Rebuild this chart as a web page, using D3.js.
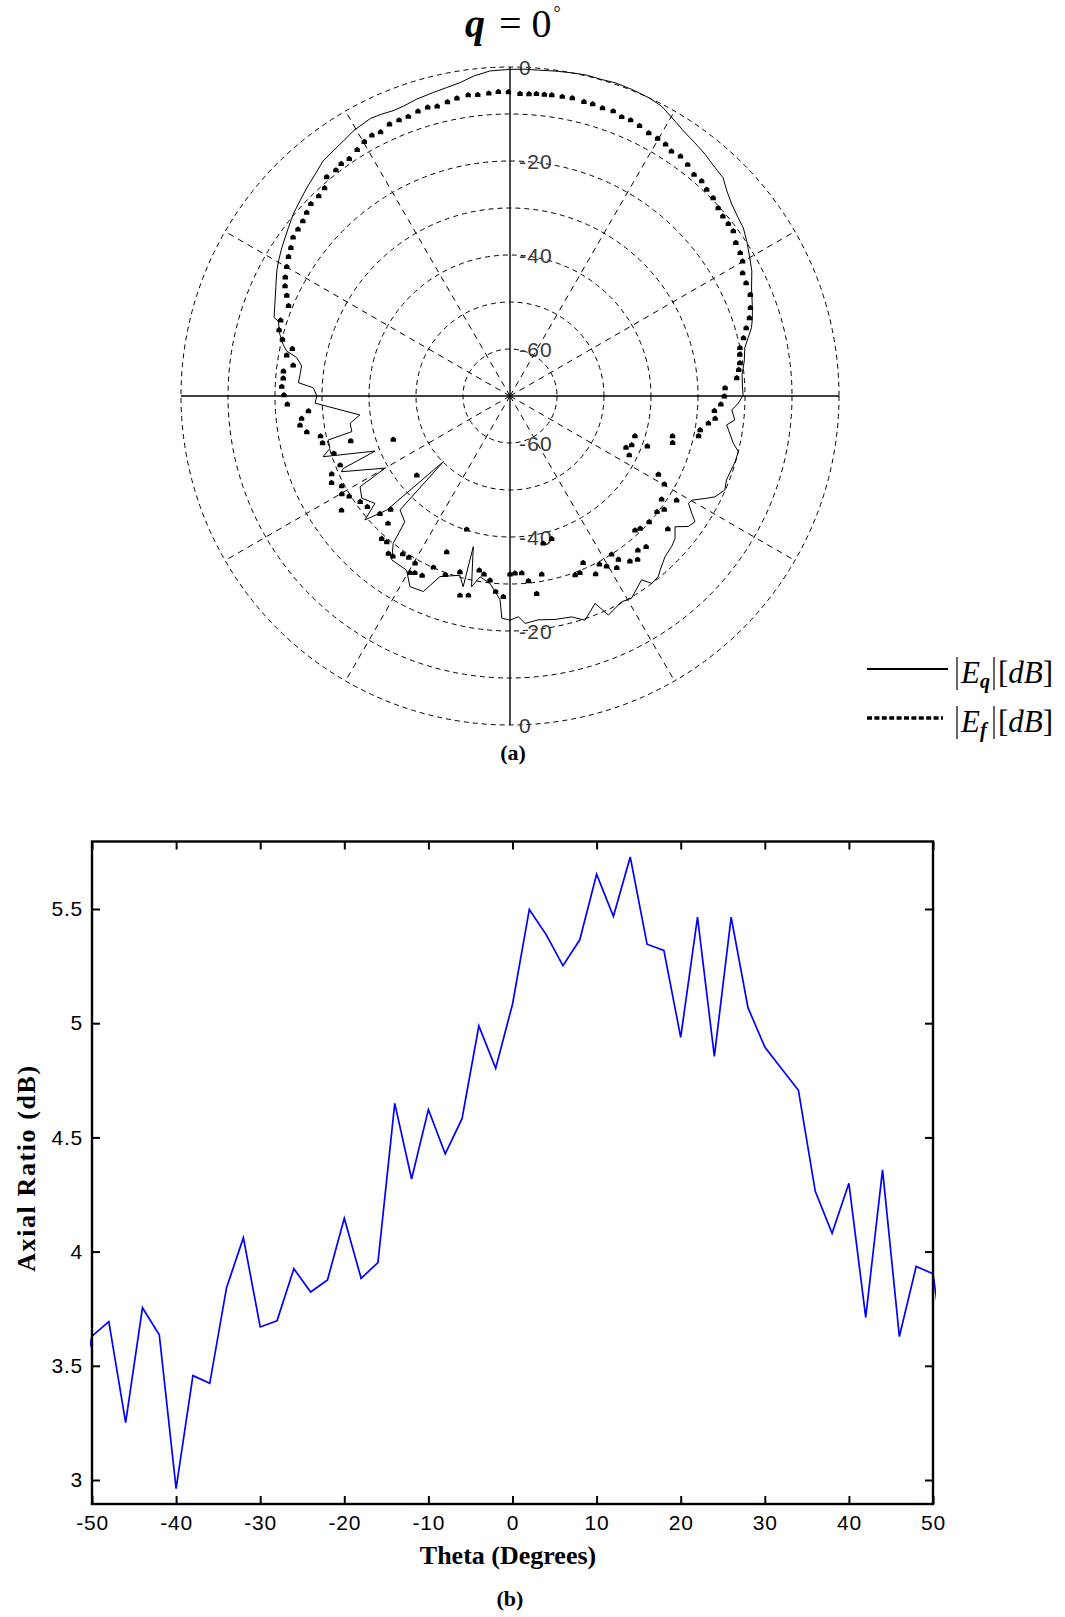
<!DOCTYPE html>
<html>
<head>
<meta charset="utf-8">
<script src="https://cdn.jsdelivr.net/npm/d3@7"></script>
<style>
body { margin: 0; background: #fff; }
</style>
</head>
<body>
<div id="chart"></div>
<script>
// (a) polar pattern, angle in degrees clockwise from top, level in dB
var thetaAngles = [-180, -177.9, -177.2, -173.9, -170.6, -168.6, -166.3, -166.2, -164.4, -158.8,
  -156.1, -152.3, -149.3, -144.2, -141.6, -140.1, -136, -134.6, -132.8, -130.5,
  -128.5, -124.6, -121.2, -120, -114.2, -113.5, -112.2, -108, -106.2, -103.6,
  -102.7, -99.7, -97.2, -92.1, -90, -87.6, -86.4, -84.1, -81.8, -79.8,
  -78.6, -77.2, -75, -72.1, -71.6, -68.7, -65.2, -61.8, -59.8, -57,
  -52.8, -50, -47.1, -44.3, -41.3, -38.5, -35.8, -33.2, -30.6, -29.1,
  -26.7, -24.5, -22.3, -20.2, -17.5, -14.2, -11.6, -9.1, -6.5, -3.5,
  0, 2.6, 5, 7.9, 10.8, 13.4, 16.1, 18.5, 21.6, 24.9,
  27.6, 30.2, 33.2, 36.1, 38.9, 41.9, 44.3, 46.6, 49.1, 52,
  54.2, 56.8, 60, 62.7, 65.9, 69.3, 72.1, 74.2, 76.2, 78.4,
  81.5, 84.7, 88, 89.8, 91.8, 93.6, 96.1, 97.6, 102, 103.7,
  106.3, 111.2, 113.6, 116.2, 117.7, 119.8, 121, 122.8, 124.2, 126.2,
  128.4, 130.8, 133, 136, 139.2, 140.6, 142.9, 144.4, 149, 151.5,
  155.8, 157.7, 161.5, 164.4, 168.6, 172.8, 176.2, 177.8, 180];
var thetaDb = [-22.3, -22.7, -26.6, -29.9, -31.0, -28.6, -37.0, -28.2, -30.4, -28.8,
  -24.5, -24.2, -26.9, -27.0, -30.0, -35.1, -36.3, -50.1, -34.3, -29.4,
  -33.3, -31.7, -32.7, -39.3, -30.7, -31.3, -39.0, -28.2, -30.1, -30.2,
  -35.5, -35.5, -37.8, -28.5, -28.9, -28.1, -24.9, -25.1, -25.2, -23.9,
  -21.5, -20.5, -19.3, -18.2, -17.1, -16.3, -15.1, -13.7, -13.0, -12.1,
  -10.8, -9.8, -9.0, -8.1, -7.2, -6.1, -5.7, -5.2, -4.5, -4.3,
  -3.9, -4.1, -4.4, -4.3, -3.8, -3.4, -3.0, -2.5, -1.5, -0.7,
  -0.5, -0.4, -0.4, -0.2, 0.0, 0.2, 0.1, 0.3, 0.2, 0.0,
  -0.4, -1.5, -2.6, -3.3, -3.9, -4.7, -5.1, -6.5, -7.6, -8.4,
  -8.8, -9.8, -11.1, -12.1, -13.7, -14.9, -15.8, -16.6, -17.8, -19.0,
  -19.6, -20.4, -20.5, -20.4, -21.4, -22.7, -21.9, -23.5, -21.4, -20.0,
  -20.1, -20.6, -20.1, -21.4, -23.1, -25.4, -25.7, -24.0, -22.4, -23.0,
  -25.2, -23.6, -23.0, -22.5, -21.1, -20.3, -20.0, -21.9, -19.8, -20.2,
  -18.9, -22.3, -19.7, -21.2, -21.5, -22.0, -21.5, -23.0, -22.3];

var phiAngles = [-178.1, -175.8, -173.8, -171.7, -170, -168.2, -165.9, -164.1, -162, -160.1,
  -157.9, -155.9, -153.9, -151.7, -150.5, -150.4, -147.9, -145.8, -143.8, -142.3,
  -139.8, -138, -136.2, -133.5, -132.1, -130.3, -127.8, -125.2, -124.1, -121.9,
  -120.2, -118.1, -115.9, -113.6, -112.1, -110.4, -108, -105.7, -104, -101.9,
  -100, -97.9, -96.1, -94.2, -92.1, -89.7, -87.6, -85.5, -83.7, -81.9,
  -79.6, -77.7, -76, -74, -71.7, -67.8, -65.7, -63.9, -62.1, -59.9,
  -57.8, -55.9, -53.8, -51.8, -49.8, -47.9, -46, -43.7, -41.7, -39.9,
  -37.6, -36, -34.1, -31.8, -29.8, -27.9, -26.1, -23.9, -21.9, -20,
  -17.9, -15.9, -14.1, -12, -10.1, -7.9, -6.1, -4, -2.2, -0.3,
  1.9, 3.6, 5, 6.5, 7.9, 9.9, 11.8, 14.1, 15.8, 17.8,
  19.9, 21.8, 23.6, 25.6, 27.8, 29.8, 31.7, 33.4, 35.4, 37.5,
  39.7, 41.7, 43.6, 45.7, 47.9, 49.8, 51.7, 53.5, 55.8, 58.1,
  59.9, 62.1, 64.4, 67.1, 69.8, 71.9, 73.9, 76, 78.1, 79.7,
  81.8, 83.4, 85.4, 87.8, 90, 92.2, 94.1, 96.2, 97.8, 100.1,
  101.9, 103.8, 106, 107.7, 110, 111.9, 113.9, 116.3, 117.8, 119.7,
  122, 124.2, 126.3, 128.2, 130.1, 132.1, 135.5, 137, 137.9, 140.3,
  142, 144, 146.4, 147.3, 148.1, 150.4, 152, 154.3, 156.3, 158.4,
  160, 163.7, 167.3, 169.9, 172.3, 174.3, 176.2, 178.4, 180];
var phiDb = [-27.3, -28.3, -30.6, -31.7, -32.4, -26.7, -26.3, -31.1, -40.2, -29.6,
  -34.2, -30.1, -27.5, -27.3, -26.8, -29.1, -29.5, -29.4, -27.8, -27.7,
  -29.4, -29.2, -32.5, -35.0, -32.7, -44.0, -31.6, -31.0, -26.7, -29.7,
  -28.6, -29.4, -27.8, -28.6, -31.0, -43.5, -30.6, -34.8, -28.9, -28.8,
  -26.1, -24.9, -25.4, -27.0, -22.6, -21.9, -21.4, -21.6, -21.5, -23.4,
  -21.7, -22.6, -20.1, -18.9, -18.6, -19.1, -17.9, -16.7, -15.9, -15.1,
  -14.3, -13.7, -12.8, -12.6, -12.3, -11.7, -11.1, -11.1, -10.7, -9.2,
  -9.3, -8.9, -9.0, -8.3, -7.6, -7.2, -7.4, -6.7, -6.7, -6.7,
  -6.3, -6.1, -6.4, -6.0, -5.6, -5.3, -5.5, -5.4, -5.2, -5.3,
  -5.6, -5.6, -5.4, -5.4, -5.3, -5.3, -5.2, -5.4, -5.4, -5.6,
  -5.5, -6.0, -5.9, -6.2, -6.7, -6.8, -7.0, -7.6, -7.4, -7.9,
  -8.7, -8.7, -9.3, -9.6, -10.3, -10.7, -10.8, -10.9, -11.9, -12.3,
  -12.8, -14.0, -14.3, -14.5, -15.5, -16.4, -17.7, -18.8, -20.0, -20.3,
  -20.6, -21.0, -21.6, -24.2, -24.4, -25.1, -26.4, -26.1, -27.4, -28.9,
  -29.0, -34.4, -34.0, -42.1, -38.9, -42.1, -43.0, -41.7, -34.3, -32.2,
  -28.2, -31.0, -29.3, -30.2, -26.1, -30.1, -30.5, -31.0, -26.8, -27.4,
  -25.9, -26.6, -28.3, -30.0, -27.0, -28.4, -29.5, -28.0, -31.3, -29.6,
  -29.5, -38.4, -37.9, -31.5, -27.6, -30.5, -32.3, -32.3, -32.1];

var ringLevels = [-60, -50, -40, -30, -20, -10, 0];
var ringLabels = [0, -20, -40, -60];
var spokeAngles = [30, 60, 120, 150, 210, 240, 300, 330];

// (b) axial ratio vs theta
var arTheta = [-52, -50, -48, -46, -44, -42, -40, -38, -36, -34, -32, -30, -28, -26, -24, -22, -20, -18,
  -16, -14, -12, -10, -8, -6, -4, -2, 0, 2, 4, 6, 8, 10, 12, 14, 16, 18,
  20, 22, 24, 26, 28, 30, 32, 34, 36, 38, 40, 42, 44, 46, 48, 50, 52];
var arValues = [3.30, 3.630, 3.693, 3.251, 3.754, 3.636, 2.962, 3.457, 3.423, 3.842, 4.061, 3.670, 3.697, 3.925, 3.823, 3.876, 4.146, 3.883,
  3.952, 4.649, 4.318, 4.622, 4.428, 4.582, 4.988, 4.803, 5.083, 5.498, 5.388, 5.252, 5.365, 5.652, 5.468, 5.728, 5.346, 5.319,
  4.938, 5.464, 4.855, 5.464, 5.068, 4.896, 4.801, 4.706, 4.264, 4.080, 4.299, 3.712, 4.358, 3.628, 3.935, 3.903, 3.38];
var xTicks = [-50, -40, -30, -20, -10, 0, 10, 20, 30, 40, 50];
var yTicks = [3, 3.5, 4, 4.5, 5, 5.5];

var w = 1065;
var h = 1617;
var serif = "'Liberation Serif', 'Times New Roman', serif";
var sans = "'Liberation Sans', Arial, sans-serif";

var svg = d3.select("#chart")
            .append("svg")
            .attr("width", w)
            .attr("height", h);

// ---------- polar plot ----------
var cx = 510, cy = 396, R = 329;
var rScale = d3.scaleLinear().domain([-70, 0]).range([0, R]);
var rad = function(a) { return a * Math.PI / 180; };

var polar = svg.append("g").attr("transform", "translate(" + cx + "," + cy + ")");

polar.selectAll("circle.ring")
    .data(ringLevels)
    .enter()
    .append("circle")
    .attr("class", "ring")
    .attr("r", function(d) { return rScale(d); })
    .attr("fill", "none")
    .attr("stroke", "#000")
    .attr("stroke-width", 1)
    .attr("stroke-dasharray", "5,4");

polar.selectAll("line.spoke")
    .data(spokeAngles)
    .enter()
    .append("line")
    .attr("class", "spoke")
    .attr("x1", 0).attr("y1", 0)
    .attr("x2", function(d) { return d3.pointRadial(rad(d), R)[0]; })
    .attr("y2", function(d) { return d3.pointRadial(rad(d), R)[1]; })
    .attr("stroke", "#000")
    .attr("stroke-width", 1)
    .attr("stroke-dasharray", "6,5");

polar.append("line")
    .attr("x1", -R).attr("x2", R).attr("y1", 0).attr("y2", 0)
    .attr("stroke", "#000").attr("stroke-width", 1.4);
polar.append("line")
    .attr("x1", 0).attr("x2", 0).attr("y1", -R).attr("y2", R)
    .attr("stroke", "#000").attr("stroke-width", 1.4);

var labelData = ringLabels.map(function(v) { return {v: v, s: -1}; })
    .concat(ringLabels.map(function(v) { return {v: v, s: 1}; }));

polar.selectAll("text.rlabel")
    .data(labelData)
    .enter()
    .append("text")
    .attr("class", "rlabel")
    .attr("x", 9)
    .attr("y", function(d) { return d.s * rScale(d.v); })
    .attr("dy", "0.4em")
    .attr("font-family", sans)
    .attr("font-size", 21)
    .attr("letter-spacing", 1.2)
    .attr("fill", "#3a3a3a")
    .text(function(d) { return d.v === 0 ? "0" : "-" + Math.abs(d.v); });

var thetaPts = thetaAngles.map(function(a, i) { return {a: a, v: thetaDb[i]}; });
var radial = d3.lineRadial()
    .angle(function(d) { return rad(d.a); })
    .radius(function(d) { return rScale(d.v); });

polar.append("path")
    .datum(thetaPts)
    .attr("d", radial)
    .attr("fill", "none")
    .attr("stroke", "#000")
    .attr("stroke-width", 1);

var phiPts = phiAngles.map(function(a, i) { return {a: a, v: phiDb[i]}; });
polar.selectAll("path.dot")
    .data(phiPts)
    .enter()
    .append("path")
    .attr("class", "dot")
    .attr("d", "M-2.7,2.4L2.7,2.4L2.7,-0.9L0,-2.8L-2.7,-0.9Z")
    .attr("transform", function(d) {
        var p = d3.pointRadial(rad(d.a), rScale(d.v));
        return "translate(" + p[0] + "," + p[1] + ")";
    })
    .attr("fill", "#000");

// title
var title = svg.append("text")
    .attr("x", 465).attr("y", 37)
    .attr("font-family", serif)
    .attr("font-size", 40);
title.append("tspan").attr("font-weight", "bold").attr("font-style", "italic").text("q");
title.append("tspan").attr("dx", 14).text("=");
title.append("tspan").attr("dx", 10).text("0");
title.append("tspan").attr("font-size", 18).attr("dy", -18).attr("dx", 2).text("°");

svg.append("text")
    .attr("x", 513).attr("y", 760)
    .attr("text-anchor", "middle")
    .attr("font-family", serif)
    .attr("font-weight", "bold")
    .attr("font-size", 22)
    .text("(a)");

// legend
var leg = svg.append("g");
leg.append("line")
    .attr("x1", 867).attr("x2", 948).attr("y1", 669).attr("y2", 669)
    .attr("stroke", "#000").attr("stroke-width", 2);
leg.append("line")
    .attr("x1", 867).attr("x2", 943).attr("y1", 718).attr("y2", 718)
    .attr("stroke", "#000").attr("stroke-width", 3.5)
    .attr("stroke-dasharray", "5,2.4");

var legRows = [{sub: "q", base: 683}, {sub: "f", base: 732}];
legRows.forEach(function(r) {
    leg.append("line").attr("x1", 957).attr("x2", 957)
        .attr("y1", r.base - 26).attr("y2", r.base + 7)
        .attr("stroke", "#000").attr("stroke-width", 1.2);
    leg.append("line").attr("x1", 994).attr("x2", 994)
        .attr("y1", r.base - 26).attr("y2", r.base + 7)
        .attr("stroke", "#000").attr("stroke-width", 1.2);
    var t = leg.append("text")
        .attr("x", 961).attr("y", r.base)
        .attr("font-family", serif)
        .attr("font-size", 31);
    t.append("tspan").attr("font-style", "italic").text("E");
    t.append("tspan").attr("font-style", "italic").attr("font-weight", "bold")
        .attr("font-size", 20).attr("dy", 5).text(r.sub);
    var u = leg.append("text")
        .attr("x", 998).attr("y", r.base)
        .attr("font-family", serif)
        .attr("font-size", 31);
    u.append("tspan").text("[");
    u.append("tspan").attr("font-style", "italic").text("dB");
    u.append("tspan").text("]");
});

// ---------- axial ratio plot ----------
var pl = 92, pr = 933, pt = 841.5, pb = 1504;
var x = d3.scaleLinear().domain([-50, 50]).range([pl, pr]);
var y = d3.scaleLinear().domain([3, 5.5]).range([1480, 909]);

svg.append("defs").append("clipPath").attr("id", "clip")
    .append("rect")
    .attr("x", pl - 2).attr("y", pt)
    .attr("width", pr - pl + 5).attr("height", pb - pt);

var line = d3.line()
    .x(function(d) { return x(d[0]); })
    .y(function(d) { return y(d[1]); });

svg.append("path")
    .datum(arTheta.map(function(t, i) { return [t, arValues[i]]; }))
    .attr("clip-path", "url(#clip)")
    .attr("d", line)
    .attr("fill", "none")
    .attr("stroke", "#0000ff")
    .attr("stroke-width", 1.7)
    .attr("stroke-linejoin", "miter");

function styleAxis(g, showText) {
    g.select(".domain").remove();
    g.selectAll(".tick line").attr("stroke", "#000").attr("stroke-width", 2);
    g.selectAll(".tick text")
        .attr("font-family", sans)
        .attr("font-size", 21)
        .attr("letter-spacing", 0.8)
        .attr("fill", "#000");
    if (!showText) g.selectAll(".tick text").remove();
}

var plain = function(d) { return String(d); };

svg.append("g")
    .attr("transform", "translate(0," + pb + ")")
    .call(d3.axisBottom(x).tickValues(xTicks).tickSizeInner(-8).tickSizeOuter(0).tickPadding(11)
        .tickFormat(plain))
    .call(styleAxis, true);
svg.append("g")
    .attr("transform", "translate(0," + pt + ")")
    .call(d3.axisTop(x).tickValues(xTicks).tickSizeInner(-8).tickSizeOuter(0))
    .call(styleAxis, false);
svg.append("g")
    .attr("transform", "translate(" + pl + ",0)")
    .call(d3.axisLeft(y).tickValues(yTicks).tickSizeInner(-8).tickSizeOuter(0).tickPadding(9)
        .tickFormat(plain))
    .call(styleAxis, true);
svg.append("g")
    .attr("transform", "translate(" + pr + ",0)")
    .call(d3.axisRight(y).tickValues(yTicks).tickSizeInner(-8).tickSizeOuter(0))
    .call(styleAxis, false);

svg.append("rect")
    .attr("x", pl).attr("y", pt)
    .attr("width", pr - pl).attr("height", pb - pt)
    .attr("fill", "none")
    .attr("stroke", "#000")
    .attr("stroke-width", 2.4);

svg.append("text")
    .attr("x", 508).attr("y", 1564)
    .attr("text-anchor", "middle")
    .attr("font-family", serif)
    .attr("font-weight", "bold")
    .attr("font-size", 26)
    .text("Theta (Degrees)");

svg.append("text")
    .attr("transform", "translate(35,1168) rotate(-90)")
    .attr("text-anchor", "middle")
    .attr("font-family", serif)
    .attr("font-weight", "bold")
    .attr("font-size", 26)
    .attr("letter-spacing", 1.6)
    .text("Axial Ratio (dB)");

svg.append("text")
    .attr("x", 510).attr("y", 1606)
    .attr("text-anchor", "middle")
    .attr("font-family", serif)
    .attr("font-weight", "bold")
    .attr("font-size", 22)
    .text("(b)");
</script>
</body>
</html>
